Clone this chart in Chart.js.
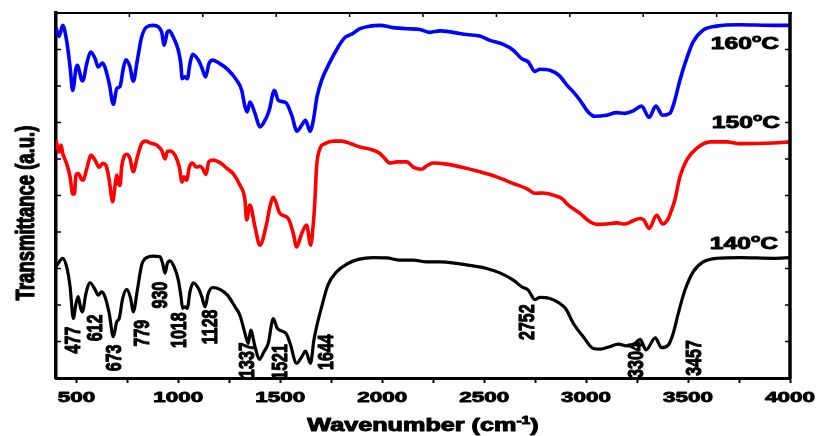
<!DOCTYPE html>
<html><head><meta charset="utf-8">
<script src="https://cdn.jsdelivr.net/npm/chart.js@4.4.0/dist/chart.umd.min.js"></script>
<style>html,body{margin:0;padding:0;background:#fff;}canvas{display:block;}</style>
</head><body>
<canvas id="c" width="818" height="436"></canvas>
<script>
// ---- data (wavenumber in cm-1, transmittance in arbitrary units) ----
const wn160 = [400,415,433,452,469,482,498,504,526,531,551,570,591,607,627,640,661,681,698,714,730,743,763,779,799,820,845,877,902,918,931,946,956,975,1000,1012,1019,1033,1044,1057,1070,1098,1114,1134,1150,1168,1204,1239,1286,1311,1327,1338,1351,1376,1400,1433,1446,1471,1490,1528,1556,1582,1600,1624,1646,1662,1680,1703,1744,1784,1817,1850,1891,1940,1989,2054,2120,2185,2234,2283,2348,2414,2479,2528,2594,2643,2684,2716,2749,2774,2823,2867,2911,2937,2970,3010,3043,3101,3150,3190,3231,3272,3309,3342,3375,3411,3435,3460,3493,3525,3574,3640,3754,3918,4000];
const t160 = [9.60,9.36,9.66,9.25,8.52,7.88,8.48,8.57,8.16,8.14,8.62,8.93,8.76,8.52,8.63,8.52,8.07,7.50,7.93,7.99,8.48,8.72,8.52,8.13,8.71,9.34,9.62,9.66,9.62,9.48,9.12,9.48,9.51,9.34,8.98,8.61,8.20,8.25,8.20,8.61,8.87,8.71,8.52,8.25,8.61,8.71,8.61,8.47,8.16,7.88,7.43,7.29,7.56,7.25,6.88,7.15,7.34,7.88,7.61,7.54,7.20,6.76,6.88,7.06,6.76,7.06,7.70,8.16,8.66,9.07,9.33,9.42,9.57,9.64,9.66,9.60,9.57,9.55,9.47,9.51,9.47,9.41,9.37,9.25,9.14,8.98,8.75,8.66,8.40,8.46,8.43,8.29,7.99,7.84,7.61,7.29,7.17,7.20,7.27,7.25,7.32,7.45,7.14,7.45,7.20,7.25,7.61,8.16,8.75,9.21,9.53,9.64,9.68,9.66,9.66];

const wn150 = [400,415,425,433,452,469,482,490,498,509,526,534,551,572,591,612,629,645,661,678,691,698,706,714,722,733,747,763,779,799,820,841,861,894,918,935,946,959,984,1005,1018,1028,1041,1054,1070,1087,1106,1119,1136,1149,1171,1204,1239,1269,1302,1327,1335,1351,1376,1400,1433,1449,1466,1498,1539,1564,1580,1605,1629,1649,1662,1670,1678,1695,1719,1760,1801,1850,1891,1940,1989,2005,2038,2071,2120,2152,2193,2218,2250,2316,2397,2479,2561,2643,2708,2749,2790,2839,2888,2904,2970,3019,3052,3101,3150,3190,3231,3264,3283,3309,3346,3375,3403,3419,3435,3460,3493,3542,3607,3689,3754,3918,4000];
const t150 = [6.52,6.19,6.38,6.15,5.88,5.51,5.04,5.04,5.56,5.60,5.44,5.42,5.74,6.10,5.97,5.77,5.88,5.83,5.42,4.83,5.33,5.56,5.33,5.28,5.78,6.06,6.13,6.01,5.65,6.06,6.42,6.49,6.44,6.38,6.24,6.00,6.21,6.22,6.10,5.78,5.37,5.51,5.42,5.78,5.89,5.78,5.80,5.74,5.58,5.92,5.97,5.90,5.74,5.60,5.28,4.87,4.33,4.74,4.14,3.64,4.23,4.69,4.95,4.51,4.37,3.96,3.59,3.96,4.19,3.64,4.23,4.87,5.78,6.29,6.42,6.49,6.49,6.41,6.33,6.27,6.15,6.06,5.89,5.92,5.92,5.78,5.72,5.81,5.89,5.86,5.77,5.65,5.51,5.33,5.19,5.06,5.07,5.01,4.89,4.78,4.51,4.28,4.21,4.22,4.25,4.22,4.31,4.37,4.33,4.10,4.46,4.22,4.37,4.60,4.87,5.51,5.97,6.29,6.47,6.47,6.42,6.44,6.47];

const wn140 = [400,433,452,469,485,498,509,521,529,547,567,591,607,624,640,661,681,698,710,727,747,766,779,799,820,845,877,910,923,935,946,959,979,1000,1013,1021,1033,1044,1057,1073,1098,1115,1131,1147,1168,1204,1241,1278,1302,1327,1343,1355,1376,1397,1420,1441,1466,1485,1528,1548,1580,1605,1624,1648,1665,1678,1703,1734,1780,1826,1882,1956,2022,2087,2152,2218,2283,2365,2446,2512,2577,2643,2684,2716,2749,2774,2823,2872,2901,2937,2986,3035,3068,3117,3158,3199,3240,3265,3294,3339,3370,3403,3427,3452,3485,3525,3574,3640,3754,3918,4000];
const t140 = [3.05,3.28,3.05,2.50,1.63,2.04,2.23,1.91,1.81,2.32,2.61,2.43,2.27,2.36,2.23,1.77,1.13,1.54,1.63,2.18,2.43,2.18,1.81,2.41,3.09,3.30,3.34,3.32,3.14,2.87,3.14,3.21,3.05,2.68,2.23,1.91,1.95,1.91,2.36,2.61,2.46,2.23,1.95,2.32,2.48,2.43,2.27,1.95,1.72,1.22,0.95,1.31,0.86,0.51,0.72,0.95,1.63,1.36,1.22,0.95,0.40,0.58,0.74,0.40,1.04,1.40,1.95,2.55,2.93,3.12,3.25,3.30,3.29,3.23,3.23,3.18,3.18,3.14,3.07,3.00,2.88,2.68,2.50,2.41,2.15,2.21,2.18,2.04,1.89,1.50,1.13,0.81,0.79,0.86,0.93,0.88,0.95,1.06,0.77,1.10,0.83,0.90,1.22,1.77,2.41,2.91,3.18,3.28,3.30,3.28,3.30];

const seriesNames = ['160', '150', '140'];      // temperatures, °C
const seriesColors = ['#0000ff', '#ff0000', '#000000'];

// tick values / labels
const xTickVals = [500,750,1000,1250,1500,1750,2000,2250,2500,2750,3000,3250,3500,3750,4000];
const xTickLabels = ['500','1000','1500','2000','2500','3000','3500','4000'];
const xLabelVals = [500,1000,1500,2000,2500,3000,3500,4000];
const yTickVals = [1,2,3,4,5,6,7,8,9];
const topTickVals = [760,1120,1480,1840,2200,2560,2920,3280,3640];

// peak annotations (text, anchor wavenumber, anchor transmittance)
const peakLabels = ['477','612','673','779','930','1018','1128','1337','1521','1644','2752','3304','3457'];
const peakAnchorWn = [478,586,680,817,905,998,1150,1332,1494,1719,2705,3239,3524];
const peakAnchorT = [1.04,1.37,0.55,1.23,2.27,1.31,1.40,0.49,0.44,0.71,1.53,0.49,0.55];

// curve labels anchors
const curveAnchorWn = [3779,3784,3774];
const curveAnchorT = [9.17,7.01,3.70];

const FAM = '"Liberation Sans", Arial, sans-serif';
const STRETCH = 1.45;

function drawRich(ctx, parts, cx, cy, size, stretch, rotate, heavy) {
  ctx.save();
  const supSize = size * 0.62;
  let W = 0;
  const widths = parts.map(p => {
    ctx.font = 'bold ' + (p.sup ? supSize : size) + 'px ' + FAM;
    const w = ctx.measureText(p.t).width; W += w; return w;
  });
  ctx.translate(cx, cy);
  ctx.scale(stretch, 1);
  if (rotate) ctx.rotate(-Math.PI / 2);
  ctx.fillStyle = '#000';
  ctx.strokeStyle = '#000';
  ctx.lineWidth = heavy;
  ctx.lineJoin = 'round';
  ctx.textBaseline = 'alphabetic';
  ctx.textAlign = 'left';
  let x0 = -W / 2;
  const base = size * 0.36;
  parts.forEach((p, i) => {
    ctx.font = 'bold ' + (p.sup ? supSize : size) + 'px ' + FAM;
    const yy = p.sup ? base - size * 0.42 : base;
    ctx.fillText(p.t, x0, yy);
    if (heavy > 0) ctx.strokeText(p.t, x0, yy);
    x0 += widths[i];
  });
  ctx.restore();
}

function seg(ctx, x1, y1, x2, y2) { ctx.beginPath(); ctx.moveTo(x1, y1); ctx.lineTo(x2, y2); ctx.stroke(); }

const deco = {
  id: 'deco',
  afterDraw(chart) {
    const { ctx, chartArea: a } = chart;
    const x = chart.scales.x, y = chart.scales.y;
    ctx.save();
    ctx.strokeStyle = '#000';
    ctx.lineWidth = 2;
    seg(ctx, a.left - 1, a.top, a.right + 2, a.top);
    ctx.lineWidth = 3.5;
    seg(ctx, a.right, a.top - 1, a.right, a.bottom + 1.5);
    ctx.lineWidth = 1.5;
    yTickVals.forEach(v => {
      const py = y.getPixelForValue(v);
      seg(ctx, a.left, py, a.left + 5, py);
      seg(ctx, a.right - 5, py, a.right, py);
    });
    topTickVals.forEach(v => {
      const px = x.getPixelForValue(v);
      seg(ctx, px, a.top, px, a.top + 4);
    });
    ctx.restore();

    // x tick labels
    xLabelVals.forEach((v, i) => {
      drawRich(ctx, [{ t: xTickLabels[i] }], x.getPixelForValue(v), a.bottom + 18, 15.5, STRETCH, false, 0.9);
    });
    // axis titles
    drawRich(ctx, [{ t: 'Wavenumber (cm' }, { t: '-1', sup: true }, { t: ')' }], 423, a.bottom + 47, 18, 1.4, false, 1.0);
    drawRich(ctx, [{ t: 'Transmittance (a.u.)' }], 25, 213, 18.5, 1.35, true, 0.9);
    // peak labels
    peakLabels.forEach((s, i) => {
      drawRich(ctx, [{ t: s }], x.getPixelForValue(peakAnchorWn[i]), y.getPixelForValue(peakAnchorT[i]), 16, 1.4, true, 0.8);
    });
    // curve labels
    seriesNames.forEach((s, i) => {
      drawRich(ctx, [{ t: s }, { t: 'o', sup: true }, { t: 'C' }], x.getPixelForValue(curveAnchorWn[i]), y.getPixelForValue(curveAnchorT[i]), 17, 1.45, false, 0.9);
    });
  }
};

const wns = [wn160, wn150, wn140];
const ts = [t160, t150, t140];

new Chart(document.getElementById('c'), {
  type: 'line',
  data: {
    datasets: seriesNames.map((n, k) => ({
      label: n + '°C',
      data: wns[k].map((w, i) => ({ x: w, y: ts[k][i] })),
      borderColor: seriesColors[k],
      borderWidth: k === 2 ? 3.2 : 3.6,
      pointRadius: 0,
      fill: false,
      tension: 0.3,
      cubicInterpolationMode: 'monotone'
    }))
  },
  options: {
    responsive: false,
    animation: false,
    devicePixelRatio: 1,
    layout: { padding: { top: 13, right: 28, left: 0, bottom: 0 } },
    plugins: { legend: { display: false }, tooltip: { enabled: false } },
    scales: {
      x: {
        type: 'linear', min: 400, max: 4000,
        afterBuildTicks: s => { s.ticks = xTickVals.map(v => ({ value: v })); },
        ticks: { display: true, color: 'rgba(0,0,0,0)', font: { size: 14 } },
        grid: { drawOnChartArea: false, drawTicks: true, tickLength: 5, tickWidth: 2, tickColor: '#000' },
        border: { display: true, color: '#000', width: 3 },
        afterFit: s => { s.height = 58; }
      },
      y: {
        min: 0, max: 10,
        ticks: { display: false },
        grid: { display: false },
        border: { display: true, color: '#000', width: 3.5 },
        afterFit: s => { s.width = 56; }
      }
    }
  },
  plugins: [deco]
});
</script>
</body></html>
